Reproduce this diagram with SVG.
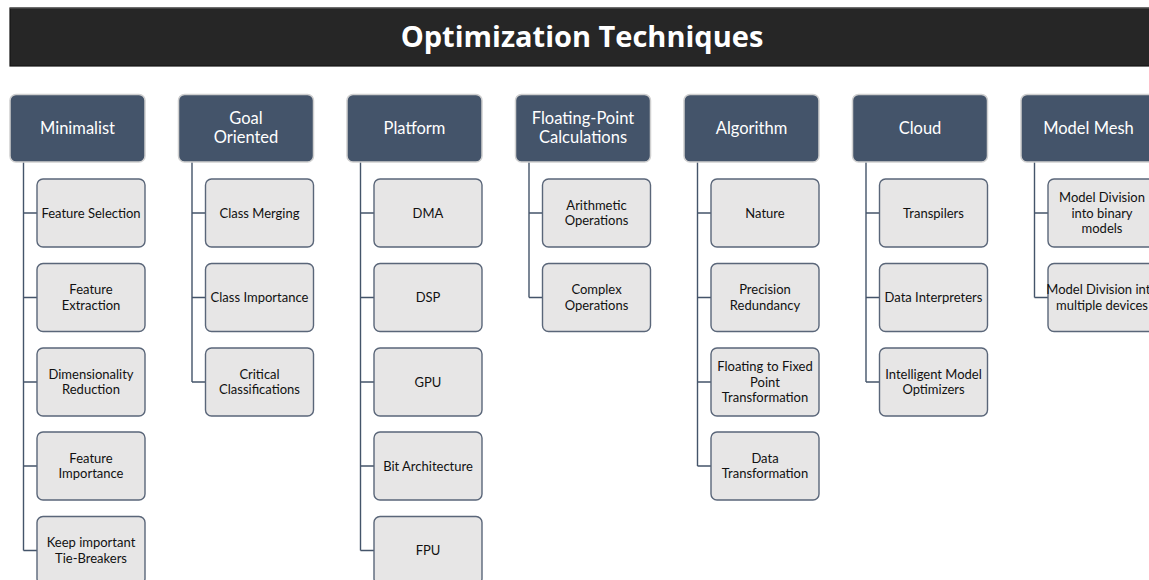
<svg xmlns="http://www.w3.org/2000/svg" width="1149" height="580" viewBox="0 0 1149 580">
  <style>
    .bar { fill: #262626; stroke: #141414; stroke-width: 1.2; }
    .bar-edge { stroke: #6A6A6A; stroke-width: 1; }
    .head rect { fill: #44546A; stroke: #D0D0D0; stroke-width: 1.5; }
    .head text { fill: #FFFFFF; font-family: Lato, "Open Sans", sans-serif; font-size: 16.5px; text-anchor: middle; }
    .item rect { fill: #E7E6E6; stroke: #5A6679; stroke-width: 1.4; }
    .item text { fill: #111111; font-family: Lato, "Open Sans", sans-serif; font-size: 13px; text-anchor: middle; }
    .title { fill: #FFFFFF; font-family: "Open Sans", Lato, sans-serif; font-weight: bold; font-size: 29px; text-anchor: middle; }
    #connectors path { fill: none; stroke: #44546A; stroke-width: 1.4; }
  </style>
  <rect width="1149" height="580" fill="#FFFFFF"/>

  <!-- title banner -->
  <g id="title">
    <rect class="bar" x="10" y="8" width="1150" height="58"/>
    <line class="bar-edge" x1="10" y1="8" x2="1149" y2="8"/>
    <text class="title" x="582" y="47">Optimization Techniques</text>
  </g>

  <!-- elbow connectors from each heading down to its items -->
  <g id="connectors">
    <path d="M23.5 162 V550.5 M23.5 213 H37 M23.5 297.5 H37 M23.5 382 H37 M23.5 466 H37 M23.5 550.5 H37"/>
    <path d="M192 162 V382 M192 213 H205.5 M192 297.5 H205.5 M192 382 H205.5"/>
    <path d="M360.5 162 V550.5 M360.5 213 H374 M360.5 297.5 H374 M360.5 382 H374 M360.5 466 H374 M360.5 550.5 H374"/>
    <path d="M529 162 V297.5 M529 213 H542.5 M529 297.5 H542.5"/>
    <path d="M697.5 162 V466 M697.5 213 H711 M697.5 297.5 H711 M697.5 382 H711 M697.5 466 H711"/>
    <path d="M866 162 V382 M866 213 H879.5 M866 297.5 H879.5 M866 382 H879.5"/>
    <path d="M1034.5 162 V297.5 M1034.5 213 H1048 M1034.5 297.5 H1048"/>
  </g>

  <!-- column 1 -->
  <g id="minimalist" class="head"><rect x="10" y="94.5" width="135" height="67.5" rx="6"/><text x="77.5" y="134">Minimalist</text></g>
  <g id="feature-selection" class="item"><rect x="37" y="179" width="108" height="68" rx="6"/><text x="91" y="217.5">Feature Selection</text></g>
  <g id="feature-extraction" class="item"><rect x="37" y="263.5" width="108" height="68" rx="6"/><text x="91" y="294.25">Feature</text><text x="91" y="309.75">Extraction</text></g>
  <g id="dimensionality-reduction" class="item"><rect x="37" y="348" width="108" height="68" rx="6"/><text x="91" y="378.75">Dimensionality</text><text x="91" y="394.25">Reduction</text></g>
  <g id="feature-importance" class="item"><rect x="37" y="432" width="108" height="68" rx="6"/><text x="91" y="462.75">Feature</text><text x="91" y="478.25">Importance</text></g>
  <g id="tie-breakers" class="item"><rect x="37" y="516.5" width="108" height="68" rx="6"/><text x="91" y="547.25">Keep important</text><text x="91" y="562.75">Tie-Breakers</text></g>

  <!-- column 2 -->
  <g id="goal-oriented" class="head"><rect x="178.5" y="94.5" width="135" height="67.5" rx="6"/><text x="246" y="124">Goal</text><text x="246" y="143">Oriented</text></g>
  <g id="class-merging" class="item"><rect x="205.5" y="179" width="108" height="68" rx="6"/><text x="259.5" y="217.5">Class Merging</text></g>
  <g id="class-importance" class="item"><rect x="205.5" y="263.5" width="108" height="68" rx="6"/><text x="259.5" y="302">Class Importance</text></g>
  <g id="critical-classifications" class="item"><rect x="205.5" y="348" width="108" height="68" rx="6"/><text x="259.5" y="378.75">Critical</text><text x="259.5" y="394.25">Classifications</text></g>

  <!-- column 3 -->
  <g id="platform" class="head"><rect x="347" y="94.5" width="135" height="67.5" rx="6"/><text x="414.5" y="134">Platform</text></g>
  <g id="dma" class="item"><rect x="374" y="179" width="108" height="68" rx="6"/><text x="428" y="217.5">DMA</text></g>
  <g id="dsp" class="item"><rect x="374" y="263.5" width="108" height="68" rx="6"/><text x="428" y="302">DSP</text></g>
  <g id="gpu" class="item"><rect x="374" y="348" width="108" height="68" rx="6"/><text x="428" y="386.5">GPU</text></g>
  <g id="bit-architecture" class="item"><rect x="374" y="432" width="108" height="68" rx="6"/><text x="428" y="470.5">Bit Architecture</text></g>
  <g id="fpu" class="item"><rect x="374" y="516.5" width="108" height="68" rx="6"/><text x="428" y="555">FPU</text></g>

  <!-- column 4 -->
  <g id="floating-point" class="head"><rect x="515.5" y="94.5" width="135" height="67.5" rx="6"/><text x="583" y="124">Floating-Point</text><text x="583" y="143">Calculations</text></g>
  <g id="arithmetic-operations" class="item"><rect x="542.5" y="179" width="108" height="68" rx="6"/><text x="596.5" y="209.75">Arithmetic</text><text x="596.5" y="225.25">Operations</text></g>
  <g id="complex-operations" class="item"><rect x="542.5" y="263.5" width="108" height="68" rx="6"/><text x="596.5" y="294.25">Complex</text><text x="596.5" y="309.75">Operations</text></g>

  <!-- column 5 -->
  <g id="algorithm" class="head"><rect x="684" y="94.5" width="135" height="67.5" rx="6"/><text x="751.5" y="134">Algorithm</text></g>
  <g id="nature" class="item"><rect x="711" y="179" width="108" height="68" rx="6"/><text x="765" y="217.5">Nature</text></g>
  <g id="precision-redundancy" class="item"><rect x="711" y="263.5" width="108" height="68" rx="6"/><text x="765" y="294.25">Precision</text><text x="765" y="309.75">Redundancy</text></g>
  <g id="float-to-fixed" class="item"><rect x="711" y="348" width="108" height="68" rx="6"/><text x="765" y="371">Floating to Fixed</text><text x="765" y="386.5">Point</text><text x="765" y="402">Transformation</text></g>
  <g id="data-transformation" class="item"><rect x="711" y="432" width="108" height="68" rx="6"/><text x="765" y="462.75">Data</text><text x="765" y="478.25">Transformation</text></g>

  <!-- column 6 -->
  <g id="cloud" class="head"><rect x="852.5" y="94.5" width="135" height="67.5" rx="6"/><text x="920" y="134">Cloud</text></g>
  <g id="transpilers" class="item"><rect x="879.5" y="179" width="108" height="68" rx="6"/><text x="933.5" y="217.5">Transpilers</text></g>
  <g id="data-interpreters" class="item"><rect x="879.5" y="263.5" width="108" height="68" rx="6"/><text x="933.5" y="302">Data Interpreters</text></g>
  <g id="model-optimizers" class="item"><rect x="879.5" y="348" width="108" height="68" rx="6"/><text x="933.5" y="378.75">Intelligent Model</text><text x="933.5" y="394.25">Optimizers</text></g>

  <!-- column 7 (runs past the right edge) -->
  <g id="model-mesh" class="head"><rect x="1021" y="94.5" width="135" height="67.5" rx="6"/><text x="1088.5" y="134">Model Mesh</text></g>
  <g id="binary-models" class="item"><rect x="1048" y="179" width="108" height="68" rx="6"/><text x="1102" y="202">Model Division</text><text x="1102" y="217.5">into binary</text><text x="1102" y="233">models</text></g>
  <g id="multiple-devices" class="item"><rect x="1048" y="263.5" width="108" height="68" rx="6"/><text x="1102" y="294.25">Model Division into</text><text x="1102" y="309.75">multiple devices</text></g>
</svg>
